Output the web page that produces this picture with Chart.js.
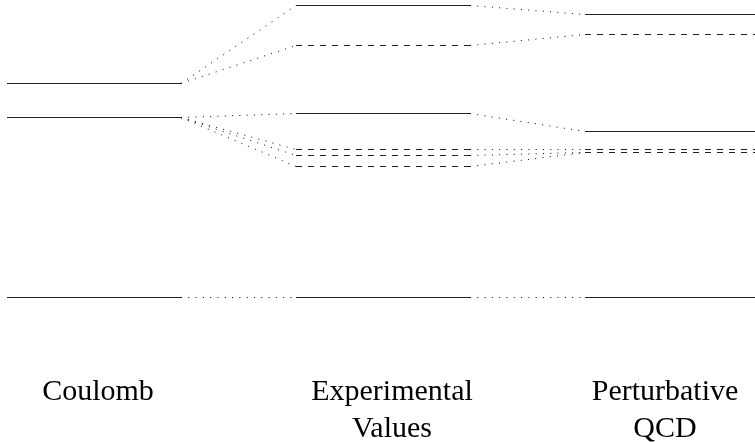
<!DOCTYPE html>
<html>
<head>
<meta charset="utf-8">
<script src="https://cdn.jsdelivr.net/npm/chart.js@4/dist/chart.umd.min.js"></script>
<style>
  html, body { margin: 0; padding: 0; background: #fff; }
  #wrap { width: 755px; height: 442px; position: relative; }
</style>
</head>
<body>
<div id="wrap"><canvas id="levels"></canvas></div>
<script>
// column labels and where they sit
const columnLabels = [['Coulomb'], ['Experimental', 'Values'], ['Perturbative', 'QCD']];
const labelX = [98, 392, 665];

// horizontal extent of each column of levels
const colStart = [7, 296, 585];
const colEnd = [181, 470, 755];

// level energies (arbitrary units)
const coulombLevels = [216.5, 182.5, 2.5];
const coulombDashed = [false, false, false];
const expLevels = [294.5, 254.5, 186.5, 150.5, 144.5, 133.5, 2.5];
const expDashed = [false, true, false, true, true, true, false];
const pqcdLevels = [285.5, 265.5, 168.5, 150.5, 147.5, 2.5];
const pqcdDashed = [false, true, false, true, true, false];

// which level connects to which (dotted)
const coulombToExp = [[0, 0], [0, 1], [1, 2], [1, 3], [1, 4], [1, 5], [2, 6]];
const expToPqcd = [[0, 0], [1, 1], [2, 2], [3, 3], [4, 4], [5, 4], [6, 5]];

const columns = [
  { levels: coulombLevels, dashed: coulombDashed },
  { levels: expLevels, dashed: expDashed },
  { levels: pqcdLevels, dashed: pqcdDashed }
];

const datasets = [];

columns.forEach(function(col, c) {
  col.levels.forEach(function(y, i) {
    datasets.push({
      data: [{ x: colStart[c], y: y }, { x: colEnd[c], y: y }],
      borderColor: '#222',
      borderWidth: 1,
      borderDash: col.dashed[i] ? [6, 6] : [],
      pointRadius: 0
    });
  });
});

function addLinks(pairs, from, to, c) {
  pairs.forEach(function(p) {
    datasets.push({
      data: [{ x: colEnd[c], y: from[p[0]] }, { x: colStart[c + 1], y: to[p[1]] }],
      borderColor: '#000',
      borderWidth: 1,
      borderDash: [1, 6.3],
      pointRadius: 0
    });
  });
}
addLinks(coulombToExp, coulombLevels, expLevels, 0);
addLinks(expToPqcd, expLevels, pqcdLevels, 1);

const ctx = document.getElementById('levels').getContext('2d');
const chart = new Chart(ctx, {
  type: 'line',
  data: { datasets: datasets },
  options: {
    responsive: true,
    maintainAspectRatio: false,
    animation: false,
    layout: { padding: 0 },
    plugins: {
      legend: { display: false },
      tooltip: { enabled: false }
    },
    scales: {
      x: {
        type: 'linear',
        min: 0,
        max: 755,
        grid: { display: false },
        border: { display: false },
        afterBuildTicks: function(scale) {
          scale.ticks = labelX.map(function(v) { return { value: v }; });
        },
        afterFit: function(scale) {
          scale.height = 142;
          scale.paddingLeft = 0;
          scale.paddingRight = 0;
        },
        ticks: {
          autoSkip: false,
          maxRotation: 0,
          padding: 66,
          color: '#000',
          font: { family: '"Liberation Serif", "Times New Roman", serif', size: 30, lineHeight: 1.22 },
          callback: function(value, index) {
            return columnLabels[index];
          }
        }
      },
      y: {
        display: false,
        min: 0,
        max: 300
      }
    },
    clip: false
  }
});
</script>
</body>
</html>
